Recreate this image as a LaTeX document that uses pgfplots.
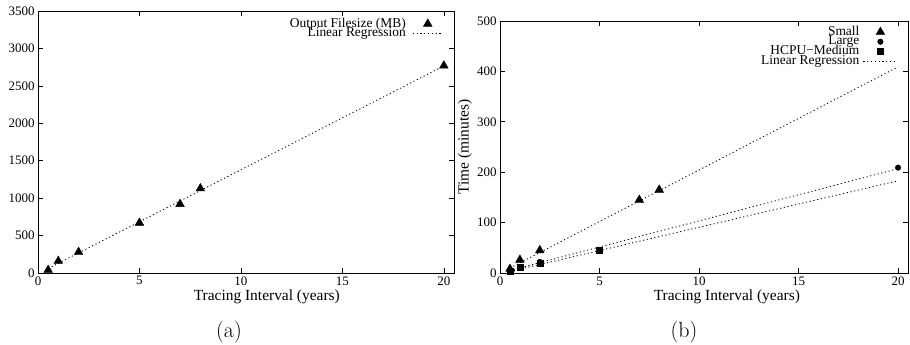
\documentclass[border=0pt]{standalone}
\usepackage{fontspec}
\usepackage{pgfplots}
\pgfplotsset{compat=1.18}
\newfontfamily\timesf{Liberation Serif}

\pgfplotsset{
  gp/.style={
    scale only axis,
    xmin=0, xmax=20.5,
    xtick={0,5,10,15,20},
    tick align=inside,
    major tick length=5bp,
    tick style={black, line width=0.6bp},
    axis line style={line width=0.8bp},
    /pgf/number format/assume math mode=true,
    /pgf/number format/1000 sep={},
    tick label style={font=\timesf\fontsize{13}{13}\selectfont},
    label style={font=\timesf\fontsize{15.5}{15.5}\selectfont},
    legend style={draw=none, fill=none, font=\timesf\fontsize{13.5}{13.5}\selectfont,
      row sep=0pt, inner sep=0pt, outer sep=0pt,
      nodes={inner sep=0.6bp, text height=7.5bp, text depth=1bp}},
    legend plot pos=right,
    legend cell align=right,
    limg/.initial=30,
  },
  regline/.style={black, dash pattern=on 1.2bp off 2.6bp, line width=0.8bp, no marks,
    legend image code/.code={\draw[##1] (0bp,0bp) -- (\pgfkeysvalueof{/pgfplots/limg} bp,0bp);}},
  mk/.style={only marks, black,
    legend image code/.code={\path[draw=none,fill=none] (0bp,0bp) rectangle (\pgfkeysvalueof{/pgfplots/limg} bp,0.1bp);
      \draw[##1] plot coordinates {(\pgfkeysvalueof{/pgfplots/limg} bp/2,0bp)};}},
}

\begin{document}
\begin{tikzpicture}
\useasboundingbox (0,0) rectangle (910bp,345bp);

% ---------- (a) ----------
\begin{axis}[gp, limg=30,
  at={(38bp,72bp)}, anchor=south west,
  width=416bp, height=262bp,
  ymin=0, ymax=3500, ytick={0,500,...,3500},
  xlabel={Tracing Interval (years)},
  x label style={at={(axis description cs:0.55,-0.0916)}, anchor=center},
  legend style={at={(axis description cs:0.974,0.97)}, anchor=north east, column sep=6bp},
]
\addplot[mk, mark=triangle*, mark size=5bp] coordinates {
  (0.5,40) (1,160) (2,280) (5,670) (7,920) (8,1130) (20,2770)};
\addlegendentry{Output Filesize (MB)}
\addplot[regline] coordinates {(0.5,60) (20,2766)};
\addlegendentry{Linear Regression}
\end{axis}

% ---------- (b) ----------
\begin{axis}[gp, limg=34,
  at={(500bp,72bp)}, anchor=south west,
  width=408bp, height=252bp,
  ymin=0, ymax=500, ytick={0,100,...,500},
  xlabel={Tracing Interval (years)},
  ylabel={Time (minutes)},
  x label style={at={(axis description cs:0.556,-0.0952)}, anchor=center},
  y label style={at={(axis description cs:-0.0858,0.5)}, anchor=center},
  legend style={at={(axis description cs:0.975,0.976)}, anchor=north east, column sep=3bp},
]
\addplot[mk, mark=triangle*, mark size=5bp] coordinates {
  (0.5,8) (1,26) (2,45) (7,145) (8,165)};
\addlegendentry{Small}
\addplot[mk, mark=*, mark size=2.8bp] coordinates {
  (0.5,4) (1,12) (2,22) (20,209)};
\addlegendentry{Large}
\addplot[mk, mark=square*, mark size=3bp] coordinates {
  (0.5,3) (1,11) (2,19) (5,46)};
\addlegendentry{HCPU{\textminus}Medium}
\addplot[regline] coordinates {(0.5,10) (20,409)};
\addlegendentry{Linear Regression}
\addplot[regline, forget plot] coordinates {(0.5,5) (20,207)};
\addplot[regline, forget plot] coordinates {(0.5,3) (20,183)};
\end{axis}

\node[font=\fontsize{22}{22}\selectfont] at (229bp,13bp) {(a)};
\node[font=\fontsize{22}{22}\selectfont] at (684bp,13bp) {(b)};
\end{tikzpicture}
\end{document}
